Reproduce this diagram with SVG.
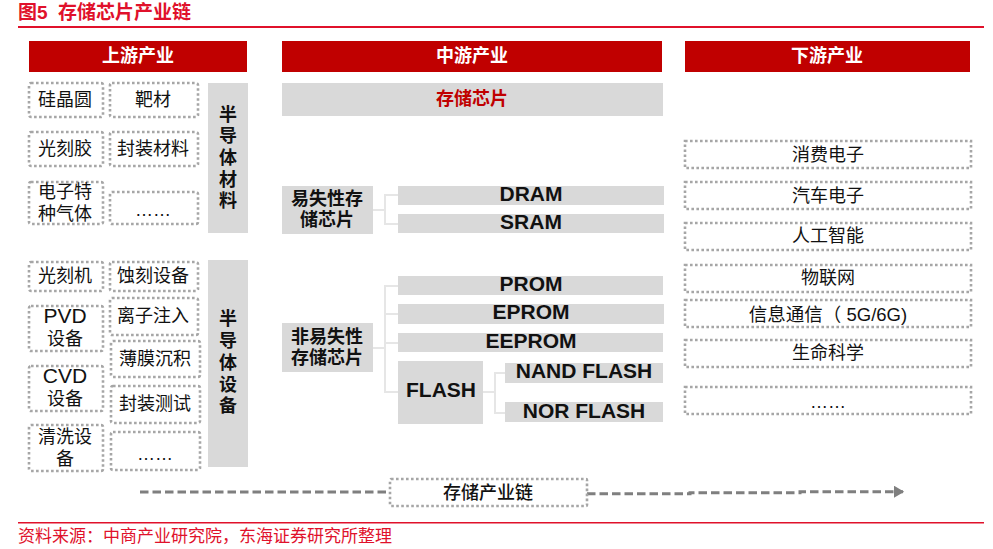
<svg xmlns="http://www.w3.org/2000/svg" width="993" height="549" viewBox="0 0 993 549">
<defs>
<marker id="ah" markerWidth="4" markerHeight="4" refX="3" refY="2" orient="auto"><path d="M0 0L3.4 2L0 4Z" fill="#7f7f7f"/></marker>
</defs>
<style>
text{font-family:"Liberation Sans","Noto Sans CJK SC",sans-serif;text-anchor:middle;dominant-baseline:central;fill:#111;font-size:18px;transform:translateY(1px)}
.hd rect{fill:#c00000}
.hd text{fill:#fff;font-weight:bold;font-size:18px}
.g rect{fill:#d9d9d9}
.g text{font-weight:bold}
.en text{font-size:21px;transform:none}
.lat{font-size:21px;transform:none}
.d rect{fill:#fff;stroke:#a6a6a6;stroke-width:2.6;stroke-dasharray:2.6 2.4}
.conn path{fill:none;stroke:#e6e6e6;stroke-width:2}
.red{fill:#e0112b}
.cap{text-anchor:start;fill:#e0112b;transform:none}
.conn .flow{fill:none;stroke:#7f7f7f;stroke-width:3;stroke-dasharray:8.5 4}
</style>
<rect width="993" height="549" fill="#fff"/>
<text class="cap" x="18" y="12" style="font-weight:bold;font-size:19px">图5</text>
<text class="cap" x="58" y="12" style="font-weight:bold;font-size:19px">存储芯片产业链</text>
<rect class="red" x="18" y="26" width="966" height="2"/>
<rect class="red" x="18" y="522" width="966" height="1.5"/>
<text class="cap" x="18" y="536" style="font-size:17px">资料来源：中商产业研究院，东海证券研究所整理</text>

<g id="connectors" class="conn">
<path d="M372 210H385M398 195H385V224H398"/>
<path d="M372 348H385M398 286H385V392H398M385 314H398M385 343H398"/>
<path d="M483 392H495M505 373H495V413H505"/>
<path class="flow" d="M140 492H389"/>
<path class="flow" marker-end="url(#ah)" d="M587 493.7H690V492.7H800V491.7H903"/>
</g>

<g id="h-up" class="hd"><rect x="29" y="41" width="218" height="31"/><text x="138" y="55">上游产业</text></g>
<g id="h-mid" class="hd"><rect x="282" y="41" width="380" height="31"/><text x="472" y="55">中游产业</text></g>
<g id="h-down" class="hd"><rect x="685" y="41" width="285" height="31"/><text x="827" y="55">下游产业</text></g>

<g id="u1" class="d"><rect x="29" y="83" width="74" height="34" rx="2"/><text x="65" y="99">硅晶圆</text></g>
<g id="u2" class="d"><rect x="110" y="83" width="88" height="34" rx="2"/><text x="153" y="99">靶材</text></g>
<g id="u3" class="d"><rect x="29" y="132" width="74" height="34" rx="2"/><text x="65" y="148">光刻胶</text></g>
<g id="u4" class="d"><rect x="110" y="132" width="88" height="34" rx="2"/><text x="153" y="148">封装材料</text></g>
<g id="u5" class="d"><rect x="29" y="182" width="74" height="42" rx="2"/><text x="65" y="191">电子特</text><text x="65" y="213">种气体</text></g>
<g id="u6" class="d"><rect x="110" y="192" width="88" height="32" rx="2"/><text x="153" y="209">……</text></g>
<g id="mat" class="g"><rect x="208" y="83" width="40" height="150"/><text x="228" y="114">半</text><text x="228" y="135">导</text><text x="228" y="157">体</text><text x="228" y="179">材</text><text x="228" y="200">料</text></g>

<g id="e1" class="d"><rect x="29" y="262" width="74" height="29" rx="2"/><text x="65" y="275">光刻机</text></g>
<g id="e2" class="d"><rect x="110" y="262" width="88" height="29" rx="2"/><text x="153" y="275">蚀刻设备</text></g>
<g id="e3" class="d"><rect x="29" y="306" width="74" height="45" rx="2"/><text class="lat" x="65" y="315">PVD</text><text x="65" y="338">设备</text></g>
<g id="e4" class="d"><rect x="110" y="298" width="88" height="37" rx="2"/><text x="153" y="315">离子注入</text></g>
<g id="e5" class="d"><rect x="111" y="341" width="89" height="36" rx="2"/><text x="155" y="358">薄膜沉积</text></g>
<g id="e6" class="d"><rect x="29" y="366" width="74" height="45" rx="2"/><text class="lat" x="65" y="375">CVD</text><text x="65" y="398">设备</text></g>
<g id="e7" class="d"><rect x="111" y="386" width="89" height="37" rx="2"/><text x="155" y="403">封装测试</text></g>
<g id="e8" class="d"><rect x="29" y="425" width="74" height="46" rx="2"/><text x="65" y="436">清洗设</text><text x="65" y="458">备</text></g>
<g id="e9" class="d"><rect x="111" y="432" width="89" height="38" rx="2"/><text x="155" y="453">……</text></g>
<g id="equip" class="g"><rect x="208" y="260" width="40" height="207"/><text x="228" y="318">半</text><text x="228" y="340">导</text><text x="228" y="362">体</text><text x="228" y="384">设</text><text x="228" y="405">备</text></g>

<g id="chip" class="g"><rect x="282" y="83" width="381" height="33"/><text x="472" y="98" style="fill:#c00000">存储芯片</text></g>
<g id="vol" class="g"><rect x="282" y="186" width="91" height="48"/><text x="327" y="198">易失性存</text><text x="327" y="219">储芯片</text></g>
<g id="nonvol" class="g"><rect x="282" y="323" width="91" height="49"/><text x="327" y="336">非易失性</text><text x="327" y="357">存储芯片</text></g>
<g id="dram" class="g en"><rect x="398" y="186" width="266" height="19"/><text x="531" y="193">DRAM</text></g>
<g id="sram" class="g en"><rect x="398" y="214" width="266" height="19"/><text x="531" y="221">SRAM</text></g>
<g id="prom" class="g en"><rect x="398" y="276" width="265" height="19"/><text x="531" y="283">PROM</text></g>
<g id="eprom" class="g en"><rect x="398" y="304" width="266" height="20"/><text x="531" y="311">EPROM</text></g>
<g id="eeprom" class="g en"><rect x="398" y="333" width="265" height="19"/><text x="531" y="340">EEPROM</text></g>
<g id="flash" class="g en"><rect x="398" y="361" width="85" height="63"/><text x="441" y="389">FLASH</text></g>
<g id="nand" class="g en"><rect x="505" y="363" width="158" height="20"/><text x="584" y="370">NAND FLASH</text></g>
<g id="nor" class="g en"><rect x="505" y="402" width="158" height="20"/><text x="584" y="410">NOR FLASH</text></g>

<g id="d1" class="d"><rect x="685" y="141" width="286" height="27"/><text x="828" y="154">消费电子</text></g>
<g id="d2" class="d"><rect x="685" y="182" width="286" height="27"/><text x="828" y="195">汽车电子</text></g>
<g id="d3" class="d"><rect x="685" y="223" width="286" height="27"/><text x="828" y="235">人工智能</text></g>
<g id="d4" class="d"><rect x="685" y="265" width="286" height="27"/><text x="828" y="277">物联网</text></g>
<g id="d5" class="d"><rect x="685" y="300" width="286" height="27"/><text x="828" y="313" style="font-size:18.5px">信息通信（ 5G/6G)</text></g>
<g id="d6" class="d"><rect x="685" y="340" width="286" height="27"/><text x="828" y="352">生命科学</text></g>
<g id="d7" class="d"><rect x="685" y="387" width="286" height="27"/><text x="828" y="401">……</text></g>
<g id="chain" class="d"><rect x="390" y="479" width="197" height="27" rx="1"/><text x="488" y="492" style="font-weight:500">存储产业链</text></g>
</svg>
